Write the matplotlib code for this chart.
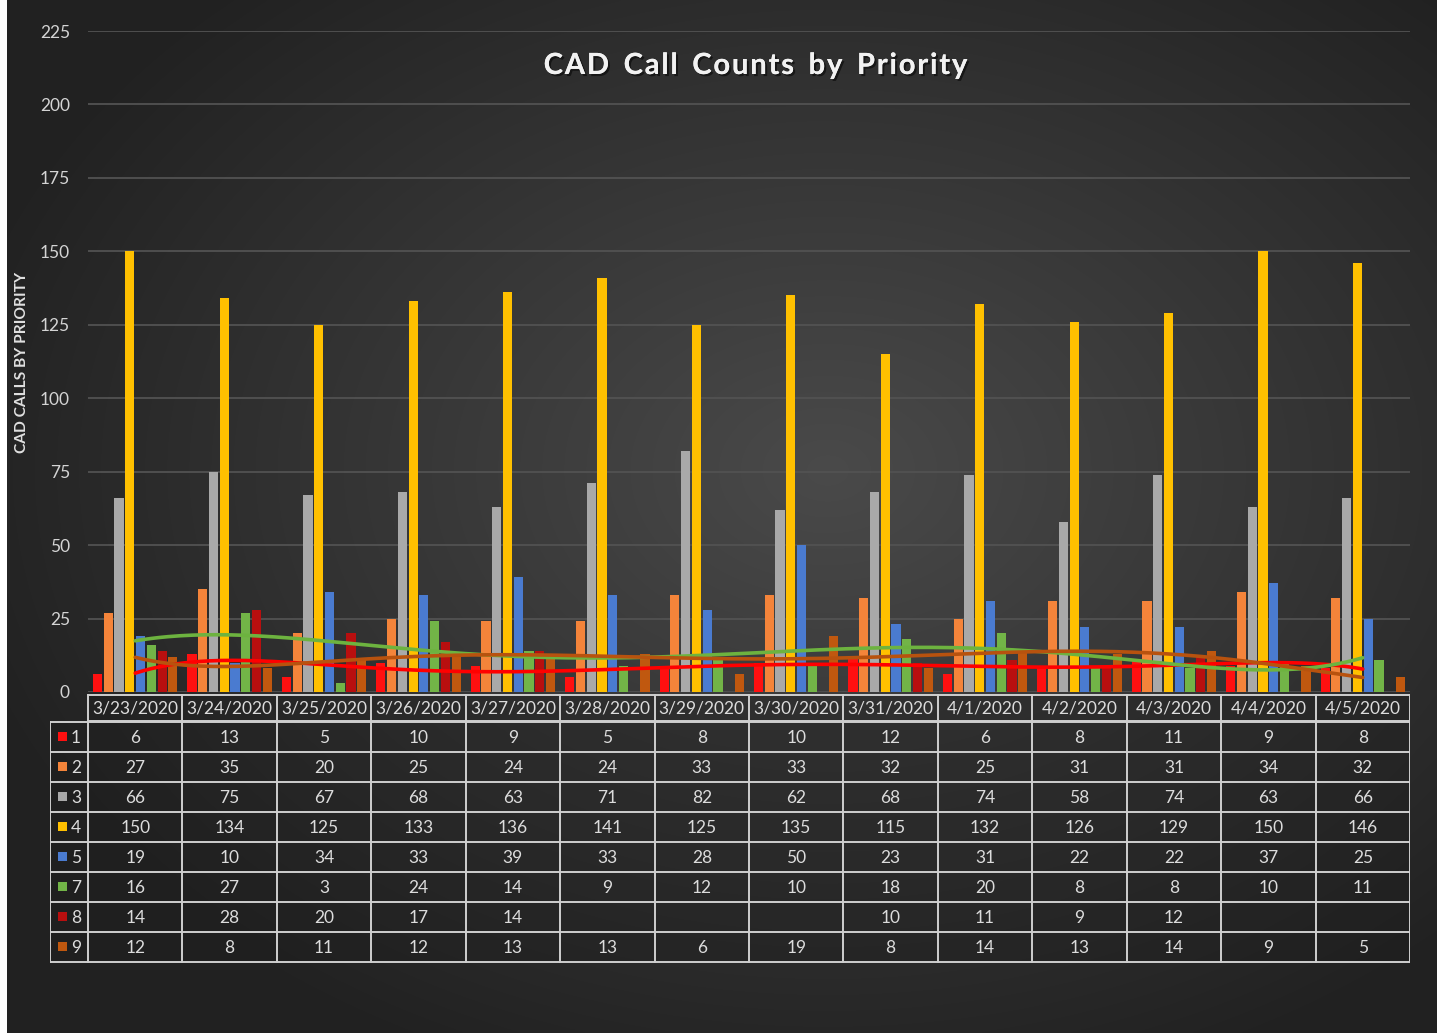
import numpy as np
import matplotlib
matplotlib.use("Agg")
import matplotlib.pyplot as plt
import matplotlib.patheffects as pe

# ---------------- data ----------------
dates = ["3/23/2020", "3/24/2020", "3/25/2020", "3/26/2020", "3/27/2020", "3/28/2020", "3/29/2020",
         "3/30/2020", "3/31/2020", "4/1/2020", "4/2/2020", "4/3/2020", "4/4/2020", "4/5/2020"]
priorities = ["1", "2", "3", "4", "5", "7", "8", "9"]
p1 = [6, 13, 5, 10, 9, 5, 8, 10, 12, 6, 8, 11, 9, 8]
p2 = [27, 35, 20, 25, 24, 24, 33, 33, 32, 25, 31, 31, 34, 32]
p3 = [66, 75, 67, 68, 63, 71, 82, 62, 68, 74, 58, 74, 63, 66]
p4 = [150, 134, 125, 133, 136, 141, 125, 135, 115, 132, 126, 129, 150, 146]
p5 = [19, 10, 34, 33, 39, 33, 28, 50, 23, 31, 22, 22, 37, 25]
p7 = [16, 27, 3, 24, 14, 9, 12, 10, 18, 20, 8, 8, 10, 11]
p8 = [14, 28, 20, 17, 14, None, None, None, 10, 11, 9, 12, None, None]
p9 = [12, 8, 11, 12, 13, 13, 6, 19, 8, 14, 13, 14, 9, 5]
series = [p1, p2, p3, p4, p5, p7, p8, p9]
colors = ["#FF1010", "#F4843A", "#A9A9A9", "#FFC000", "#4A7BD0", "#72B447", "#B80F0F", "#C0580F"]
trend_idx = [0, 5, 7]           # trendlines for priorities 1, 7, 9
trend_colors = ["#FF0000", "#6DB33F", "#B8520E"]
yticks = [0, 25, 50, 75, 100, 125, 150, 175, 200, 225]

W, H = 1437, 1036
fig = plt.figure(figsize=(W / 100, H / 100), dpi=100)
fig.patch.set_facecolor("white")
plt.rcParams["font.family"] = ["Lato", "DejaVu Sans"]

# ---------------- background gradient ----------------
bg = fig.add_axes([7 / W, 3 / H, (W - 7) / W, (H - 3) / H])
bg.set_axis_off()
yy, xx = np.mgrid[0:1033:2, 0:1430:2]
d = np.sqrt(((xx - 820) / 900.0) ** 2 + ((yy - 470) / 650.0) ** 2)
lev = np.clip(0.29 - 0.16 * d, 0.13, 0.29)
img = np.dstack([lev, lev, lev])
bg.imshow(img, aspect="auto", extent=[0, 1, 0, 1], interpolation="bicubic")
bg.set_xlim(0, 1)
bg.set_ylim(0, 1)

# ---------------- main chart ----------------
x0, x1, ytop, ybot = 88, 1410, 31, 692
ax = fig.add_axes([x0 / W, 1 - ybot / H, (x1 - x0) / W, (ybot - ytop) / H])
ax.set_facecolor("none")
n = len(dates)
x = np.arange(n)
slot = 0.114
bw = 0.097
for k, (vals, c) in enumerate(zip(series, colors)):
    v = np.array([np.nan if a is None else a for a in vals], dtype=float)
    ax.bar(x + (k - 3.5) * slot, v, width=bw, color=c, zorder=3, linewidth=0)

xs = np.linspace(0, n - 1, 300)
for idx, tc in zip(trend_idx, trend_colors):
    v = np.array(series[idx], dtype=float)
    coef = np.polyfit(x, v, 6)
    ax.plot(xs, np.polyval(coef, xs), color=tc, lw=2.6, zorder=4, solid_capstyle="round")

ax.set_xlim(-0.5, n - 0.5)
ax.set_ylim(0, 225)
ax.set_yticks(yticks)
ax.set_xticks([])
ax.yaxis.grid(True, color="#525252", lw=1.3, zorder=0)
ax.set_axisbelow(True)
ax.tick_params(axis="y", length=0, pad=13, labelsize=12.5, labelcolor="#d4d4d4")
for s in ax.spines.values():
    s.set_visible(False)

fig.text(22 / W, 1 - 362 / H, "CAD CALLS BY PRIORITY", rotation=90, ha="center", va="center",
         color="#e0e0e0", fontsize=11.2, fontweight="bold")

title = "CAD Call Counts by Priority"
fig.text(756 / W, 1 - 66 / H, "\u200a".join(title).replace("\u200a \u200a", "\u2002"),
         ha="center", va="center", color="#f2f2f2", fontsize=21, fontweight="bold",
         path_effects=[pe.withSimplePatchShadow(offset=(1.5, -1.5), shadow_rgbFace="#111111", alpha=0.8), pe.Normal()])

# ---------------- data table ----------------
tx0, ty0, ty1 = 50, 694, 963
tax = fig.add_axes([tx0 / W, 1 - ty1 / H, (x1 - tx0) / W, (ty1 - ty0) / H])
tax.set_xlim(tx0, x1)
tax.set_ylim(ty1, ty0)
tax.set_axis_off()
colw = (x1 - x0) / n
lc = "#cfcfcf"
hdr_top, hdr_bot = 695, 721
row_h = 30
rows_top = 722
nrows = len(priorities)
rows_bot = rows_top + nrows * row_h

# cell fill
tax.fill_between([x0, x1], hdr_top, hdr_bot, color="#1c1c1c", alpha=0.35, lw=0)
tax.fill_between([tx0, x1], rows_top, rows_bot, color="#1c1c1c", alpha=0.35, lw=0)

# header
tax.plot([x0, x1], [hdr_top, hdr_top], color=lc, lw=1.4)
tax.plot([x0, x1], [hdr_bot, hdr_bot], color=lc, lw=1.4)
for i in range(n + 1):
    xb = x0 + i * colw
    tax.plot([xb, xb], [hdr_top, hdr_bot], color=lc, lw=1.4)
for i, dname in enumerate(dates):
    tax.text(x0 + (i + 0.5) * colw, (hdr_top + hdr_bot) / 2 + 1, dname, ha="center", va="center",
             color="#dcdcdc", fontsize=12.5)

# body
for r in range(nrows + 1):
    yb = rows_top + r * row_h
    tax.plot([tx0, x1], [yb, yb], color=lc, lw=1.4)
for xb in [tx0] + [x0 + i * colw for i in range(n + 1)]:
    tax.plot([xb, xb], [rows_top, rows_bot], color=lc, lw=1.4)
for r, (pname, vals, c) in enumerate(zip(priorities, series, colors)):
    yc = rows_top + (r + 0.5) * row_h
    tax.add_patch(plt.Rectangle((58, yc - 5), 9, 9, color=c, lw=0))
    tax.text(76, yc + 1, pname, ha="center", va="center", color="#dcdcdc", fontsize=12.5)
    for i, v in enumerate(vals):
        if v is not None:
            tax.text(x0 + (i + 0.5) * colw, yc + 1, str(v), ha="center", va="center",
                     color="#dcdcdc", fontsize=12.5)

fig.savefig("out.png", dpi=100, facecolor="white")
